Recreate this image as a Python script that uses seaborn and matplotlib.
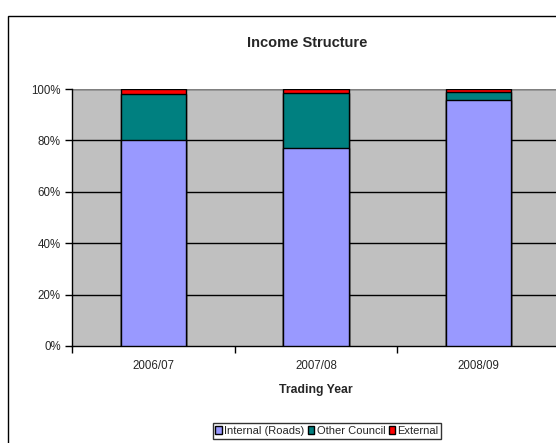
import matplotlib
matplotlib.use("Agg")
import matplotlib.pyplot as plt
import matplotlib.patches as mpatches
from matplotlib.ticker import FixedLocator
import seaborn as sns
import pandas as pd

years = ["2006/07", "2007/08", "2008/09"]
internal = [80.0, 77.0, 95.7]
other_council = [18.1, 21.6, 3.0]
external = [1.9, 1.4, 1.3]
series_names = ["Internal (Roads)", "Other Council", "External"]
colors = ["#9999FF", "#008080", "#FF0000"]
yticks = [0, 20, 40, 60, 80, 100]

sns.set_theme(style="white")
plt.rcParams["font.family"] = ["Liberation Sans", "DejaVu Sans"]

df = pd.DataFrame({"year": years, "internal": internal,
                   "other": other_council, "external": external})
df["cum1"] = df["internal"]
df["cum2"] = df["internal"] + df["other"]
df["cum3"] = df["cum2"] + df["external"]

W, H = 556, 443
fig = plt.figure(figsize=(W / 100, H / 100), dpi=100)
ax = fig.add_axes([72 / W, (H - 346) / H, (560 - 72) / W, 257 / H])
ax.set_facecolor("#C0C0C0")

for col, c in zip(["cum3", "cum2", "cum1"], [colors[2], colors[1], colors[0]]):
    sns.barplot(data=df, x="year", y=col, color=c, width=0.4,
                edgecolor="black", linewidth=1.0, saturation=1, ax=ax, zorder=3)

ax.set_ylim(0, 100)
ax.set_xlim(-0.5, 2.5)
ax.set_yticks(yticks)
ax.set_yticklabels([f"{v}%" for v in yticks], fontsize=8.3)
for v in yticks[1:]:
    ax.axhline(v, color="black", lw=1.0, zorder=1)
ax.axhline(100, color="#808080", lw=1.5, zorder=2)

ax.set_xticks(range(len(years)))
ax.set_xticklabels(years, fontsize=8.3)
ax.xaxis.set_minor_locator(FixedLocator([-0.5, 0.5, 1.5, 2.5]))
ax.tick_params(axis="x", which="major", length=0, pad=10)
ax.tick_params(axis="x", which="minor", length=5, width=1, color="black", direction="out", bottom=True)
ax.tick_params(axis="y", length=5, width=1, color="black", direction="out", left=True, pad=3)
ax.set_xlabel("")
ax.set_ylabel("")

for s in ["left", "bottom"]:
    ax.spines[s].set_color("black")
    ax.spines[s].set_linewidth(1.0)
ax.spines["top"].set_visible(False)
ax.spines["right"].set_color("#808080")

fig.text(307 / W, 1 - 43 / H, "Income Structure", ha="center", va="center",
         fontsize=10.5, fontweight="bold")
fig.text(316 / W, 1 - 390 / H, "Trading Year", ha="center", va="center",
         fontsize=8.8, fontweight="bold")

frame = mpatches.Rectangle((8 / W, -0.1), 1.2, 1 - 16 / H + 0.1,
                           transform=fig.transFigure, fill=False,
                           edgecolor="black", lw=1.0, clip_on=False)
fig.patches.append(frame)

handles = [mpatches.Patch(facecolor=c, edgecolor="black", lw=1.0) for c in colors]
leg = fig.legend(handles, series_names, loc="center", ncol=3,
                 bbox_to_anchor=(327 / W, 1 - 431 / H), fontsize=8,
                 frameon=True, fancybox=False, handlelength=0.6,
                 handleheight=0.7, handletextpad=0.2, columnspacing=0.3,
                 borderpad=0.25, borderaxespad=0)
leg.get_frame().set_edgecolor("black")
leg.get_frame().set_linewidth(1.0)

fig.savefig("out.png", dpi=100)
